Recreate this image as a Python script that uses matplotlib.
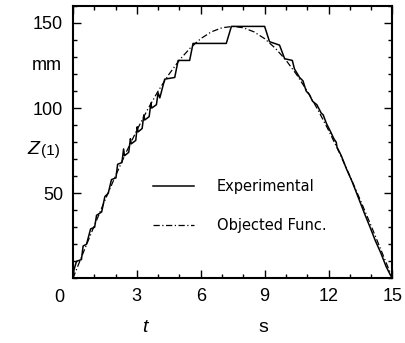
import matplotlib
matplotlib.use("Agg")
import matplotlib.pyplot as plt
from matplotlib.ticker import MultipleLocator
import matplotlib.transforms as mtransforms

# Experimental (stepped) curve vertices
exp_t = [0.00, 0.05, 0.17, 0.40, 0.48, 0.64, 0.83, 1.02, 1.11, 1.35, 1.50, 1.66,
         1.81, 2.02, 2.10, 2.30, 2.38, 2.42, 2.62, 2.70, 2.74, 2.95, 3.02, 3.06,
         3.25, 3.33, 3.37, 3.58, 3.66, 3.70, 3.92, 4.00, 4.08, 4.31, 4.78, 4.94,
         5.48, 5.64, 7.20, 7.44, 9.00, 9.23, 9.70, 9.94, 10.30, 10.40, 10.64,
         10.80, 10.95, 11.10, 11.25, 11.45, 11.66, 11.75, 11.90, 12.10, 12.25,
         12.36, 12.40, 12.60, 12.85, 13.10, 13.35, 13.69, 13.95, 14.20, 14.45,
         14.70, 14.90, 15.00]
exp_z = [0, 5, 10, 11, 19, 20, 29, 30, 37, 39, 48, 50,
         58, 59, 67, 68, 76, 72, 74, 82, 79, 81, 89, 86,
         88, 96, 93, 95, 103, 100, 102, 109, 106, 117, 118, 128,
         128, 138, 138, 148, 148, 139, 137, 129, 128, 123, 118,
         116, 110, 108, 104, 102, 97, 96, 91, 86, 82,
         80, 77, 72, 64, 57, 49, 38, 30, 22, 15,
         7, 2, 0]

# Objective function (smooth)
obj_t = [0, 0.5, 1, 1.5, 2, 2.5, 3, 3.5, 4, 4.5, 5, 5.5, 6, 6.5, 7, 7.5,
         8, 8.5, 9, 9.5, 10, 10.5, 11, 11.5, 12, 12.5, 13, 13.5, 14, 14.5, 15]
obj_z = [0, 15.5, 30.8, 45.7, 60.2, 74, 87, 99, 110, 119.7, 128.2, 135.2, 140.8,
         144.8, 147.2, 148, 147.2, 144.8, 140.8, 135.2, 128.2, 119.7, 110, 99,
         87, 74, 60.2, 45.7, 30.8, 15.5, 0]

xticks = [0, 3, 6, 9, 12, 15]
yticks = [50, 100, 150]

fig = plt.figure(figsize=(4.05, 3.43), dpi=100)
ax = fig.add_axes([0.180, 0.1886, 0.789, 0.794])

ax.plot(exp_t, exp_z, color="black", lw=1.1, label="Experimental")
ax.plot(obj_t, obj_z, color="black", lw=0.9, linestyle=(0, (5, 2, 1, 2)),
        label="Objected Func.")

ax.set_xlim(0, 15)
ax.set_ylim(0, 160)
ax.set_xticks(xticks)
ax.set_xticklabels([str(v) for v in xticks])
ax.set_yticks(yticks)
ax.set_yticklabels([str(v) for v in yticks])
ax.xaxis.set_minor_locator(MultipleLocator(1))
ax.yaxis.set_minor_locator(MultipleLocator(10))
ax.tick_params(which="both", direction="in", top=True, right=True, width=1.0)
ax.tick_params(which="major", length=5.5, labelsize=13, pad=7)
ax.tick_params(which="minor", length=2.8)
for lab in ax.get_xticklabels() + ax.get_yticklabels():
    lab.set_fontfamily("Liberation Sans")
for sp in ax.spines.values():
    sp.set_linewidth(1.5)

# shift the "0" x tick label to the left
off = mtransforms.ScaledTranslation(-10 / 72, -1 / 72, fig.dpi_scale_trans)
ax.get_xticklabels()[0].set_transform(ax.get_xticklabels()[0].get_transform() + off)

fig.text(62 / 405, 1 - 65 / 343, "mm", ha="right", va="center", fontsize=13,
         family="Liberation Sans")
fig.text(39 / 405, 1 - 150 / 343, "Z", ha="right", va="center",
         fontsize=14, style="italic", family="Liberation Sans")
fig.text(41 / 405, 1 - 151 / 343, "(1)", ha="left", va="center",
         fontsize=11, family="Liberation Sans")
fig.text(145 / 405, 1 - 328 / 343, "t", ha="center", va="center", fontsize=14,
         style="italic", family="Liberation Sans")
fig.text(263 / 405, 1 - 328 / 343, "s", ha="center", va="center", fontsize=14,
         family="Liberation Sans")

ax.legend(loc="upper left", bbox_to_anchor=(0.25, 0.364), frameon=False,
          fontsize=10.5, handlelength=2.8, handletextpad=1.6, labelspacing=1.62,
          borderpad=0, borderaxespad=0)

fig.savefig("out.png", dpi=100)
